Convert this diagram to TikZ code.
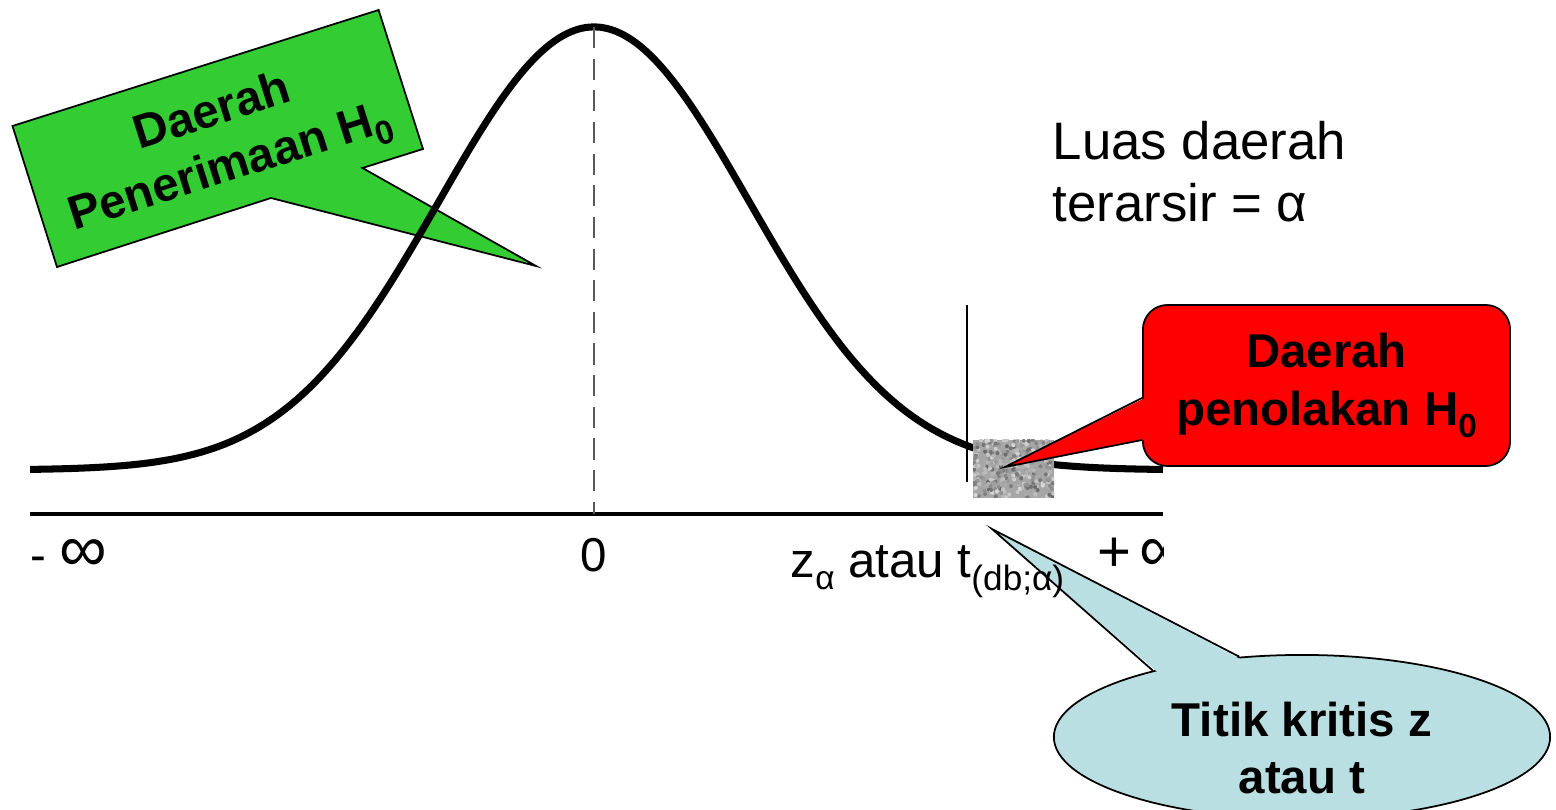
\documentclass[tikz,border=0pt]{standalone}
\usepackage{fontspec}
\setmainfont{Liberation Sans}
\usepackage{tikz}
\usetikzlibrary{calc,shapes.geometric}
\definecolor{acceptGreen}{RGB}{51,204,51}
\definecolor{rejectRed}{RGB}{255,0,0}
\definecolor{critBlue}{RGB}{185,223,227}
\newcommand{\idx}[1]{\raisebox{-3.3pt}{\fontsize{9.5}{9.5}\selectfont #1}}

\begin{document}
\begin{tikzpicture}[x=0.01cm,y=-0.01cm,
  curve/.style={line width=2pt,line join=round},
  axisline/.style={line width=1.3pt},
  balloon/.style={draw=black,line width=0.5pt,line join=miter},
  callfont/.style={font=\fontsize{13.5}{16.4}\selectfont\bfseries,align=center},
  axlabel/.style={font=\fontsize{13.5}{16}\selectfont,inner sep=0pt},
  redbox/.style={rectangle,rounded corners=7pt,fill=rejectRed,draw=black,line width=0.5pt,
                 minimum width=3.67cm,minimum height=1.61cm,callfont},
  bluebox/.style={ellipse,fill=critBlue,draw=black,line width=0.5pt,
                  minimum width=4.96cm,minimum height=1.64cm,inner sep=0pt}
]
  \useasboundingbox (0,0) rectangle (1556,810);

  % acceptance balloon
  \coordinate (g1) at (12.5,126);
  \coordinate (g2) at (378.6,10);
  \coordinate (g3) at (423,149);
  \coordinate (g4) at (362.5,168);
  \coordinate (gtip) at (536,266);
  \coordinate (g6) at (271,198);
  \coordinate (g7) at (57,267);
  \filldraw[balloon,fill=acceptGreen] (g1) -- (g2) -- (g3) -- (g4) -- (gtip) -- (g6) -- (g7) -- cycle;
  \node[callfont,rotate=17.6] (accept) at (222,142) {Daerah\\Penerimaan H\idx{0}};

  % density and axis
  \coordinate (peak) at (594,27);
  \coordinate (origin) at (594,514);
  \coordinate (axl) at (30,514);
  \coordinate (axr) at (1163,514);
  \begin{scope}
    \clip (30,0) rectangle (1163,620);
    \draw[curve] plot[domain=30:1163,samples=160,smooth] (\x,{470-443*exp(-0.5*((\x-594)/155)^2)});
    \draw[axisline] (axl) -- (axr);
    \draw[black!65,line width=0.6pt,dash pattern=on 6pt off 3pt] (peak) -- (origin);
    \node[axlabel,anchor=base west] (minf) at (30,572) {- {\fontsize{19}{19}\selectfont ∞}};
    \node[axlabel,anchor=base] (zero) at (594,572) {0};
    \node[axlabel,anchor=base west] (pinf) at (1097,572) {{\fontsize{16.5}{16}\selectfont +}\,{\fontsize{19}{19}\selectfont ∞}};
  \end{scope}

  % critical value and shaded tail
  \coordinate (ctop) at (967,305);
  \coordinate (cbot) at (967,482);
  \draw[line width=0.5pt] (ctop) -- (cbot);
  \begin{scope}
    \clip (973,440) rectangle (1054,498);
    \fill[black!35] (973,440) rectangle (1054,498);
    \pgfmathsetseed{11}
    \foreach \k in {1,...,320}{
      \pgfmathsetmacro{\sx}{973+81*rnd}
      \pgfmathsetmacro{\sy}{440+58*rnd}
      \pgfmathsetmacro{\sg}{15+45*rnd}
      \fill[black!\sg] (\sx,\sy) circle (2);
    }
  \end{scope}

  % rejection balloon
  \node[redbox] (reject) at (1326.5,385.5) {Daerah\\penolakan H\idx{0}};
  \coordinate (rb1) at ($(reject.west)+(0,12.5)$);
  \coordinate (rb2) at ($(reject.west)+(0,54.5)$);
  \coordinate (rtip) at (1005,467);
  \fill[rejectRed] ($(rb1)+(3,0)$) -- (rtip) -- ($(rb2)+(3,0)$) -- cycle;
  \draw[balloon] (rb1) -- (rtip) -- (rb2);

  \node[anchor=north west,inner sep=0pt,align=left,font=\fontsize{15}{17.5}\selectfont] (area)
    at (1052,121) {Luas daerah\\terarsir = α};

  % critical point balloon
  \node[bluebox] (crit) at (1302,737) {};
  \coordinate (ctip) at (992,529);
  \fill[critBlue] ($(crit.156)!0.04!(crit.center)$) -- (ctip) -- ($(crit.128)!0.04!(crit.center)$) -- cycle;
  \draw[balloon] (crit.156) -- (ctip) -- (crit.128);
  \node[callfont] (critlabel) at (1302,748) {Titik kritis z\\atau t};

  \node[axlabel,anchor=base west,font=\fontsize{14}{16}\selectfont] (zlabel) at (790,578)
    {z\idx{α} atau t{\fontsize{10}{10}\selectfont\raisebox{-3.5pt}{(db;α)}}};
\end{tikzpicture}
\end{document}
